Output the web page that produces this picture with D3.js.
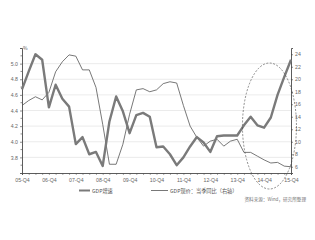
<!DOCTYPE html>
<html><head><meta charset="utf-8">
<script src="https://cdn.jsdelivr.net/npm/d3@7"></script>
<style>
html,body{margin:0;padding:0;background:#fff;}
svg{display:block;font-family:"Noto Sans CJK SC","DejaVu Sans",sans-serif;}
</style></head>
<body><svg id="c" width="315" height="240"></svg>
<script>
const quarters = ["05-Q4","06-Q1","06-Q2","06-Q3","06-Q4","07-Q1","07-Q2","07-Q3","07-Q4","08-Q1","08-Q2","08-Q3","08-Q4","09-Q1","09-Q2","09-Q3","09-Q4","10-Q1","10-Q2","10-Q3","10-Q4","11-Q1","11-Q2","11-Q3","11-Q4","12-Q1","12-Q2","12-Q3","12-Q4","13-Q1","13-Q2","13-Q3","13-Q4","14-Q1","14-Q2","14-Q3","14-Q4","15-Q1","15-Q2","15-Q3","15-Q4"];
const leftSeries = [4.67,4.90,5.12,5.05,4.44,4.73,4.55,4.45,3.97,4.06,3.84,3.87,3.69,4.26,4.58,4.39,4.11,4.34,4.37,4.32,3.93,3.94,3.84,3.70,3.80,3.94,4.06,3.99,3.87,4.07,4.08,4.08,4.08,4.21,4.32,4.21,4.18,4.31,4.60,4.83,5.05];
const rightSeries = [15.8,16.6,17.2,16.7,17.9,21.2,22.8,23.9,23.7,21.5,21.5,18.7,12.8,6.4,6.4,9.6,14.4,18.3,18.5,18.0,18.3,19.3,19.6,19.4,15.8,12.5,10.7,9.3,10.1,10.4,9.3,10.1,10.4,8.3,8.3,7.7,7.1,6.6,6.7,6.1,6.0];
const xTickLabels = ["05-Q4","06-Q4","07-Q4","08-Q4","09-Q4","10-Q4","11-Q4","12-Q4","13-Q4","14-Q4","15-Q4"];
const leftTicks = [3.8,4.0,4.2,4.4,4.6,4.8,5.0];
const rightTicks = [6,8,10,12,14,16,18,20,22,24];
const seriesNames = ["GDP增速","GDP现价：当季同比（右轴）"];
const sourceText = "资料来源：Wind，研究所整理";

const svg = d3.select("#c");
const L = 22, R = 291, T = 48, B = 173;
const x = d3.scalePoint().domain(quarters).range([L, R]);
const yL = d3.scaleLinear().domain([3.6, 5.2]).range([B, T]);
const yR = d3.scaleLinear().domain([5, 25]).range([B, T]);

// gridlines
svg.append("g").selectAll("line").data(leftTicks).join("line")
  .attr("x1", L).attr("x2", R).attr("y1", d => yL(d)).attr("y2", d => yL(d))
  .attr("stroke", "#e6e6e6").attr("stroke-width", 0.8);

// left axis
const gl = svg.append("g").attr("transform", `translate(${L},0)`)
  .call(d3.axisLeft(yL).tickValues(leftTicks).tickFormat(d3.format(".1f")).tickSize(2).tickPadding(2));
gl.append("g").selectAll("line").data(d3.range(3.7, 5.2, 0.2)).join("line")
  .attr("x1", -1.5).attr("x2", 0).attr("y1", d => yL(d)).attr("y2", d => yL(d)).attr("stroke", "#444").attr("stroke-width", 0.6);
gl.select(".domain").attr("stroke", "#333").attr("stroke-width", 0.8);
gl.selectAll(".tick line").attr("stroke", "#444").attr("stroke-width", 0.6);
gl.selectAll("text").attr("font-size", 5.2).attr("fill", "#666");
svg.append("text").attr("x", L + 1).attr("y", T + 2).attr("font-size", 5).attr("fill", "#555").text("%");

// right axis
const gr = svg.append("g").attr("transform", `translate(${R},0)`)
  .call(d3.axisRight(yR).tickValues(rightTicks).tickSize(2).tickPadding(2));
gr.select(".domain").attr("stroke", "#333").attr("stroke-width", 0.8);
gr.selectAll(".tick line").attr("stroke", "#444").attr("stroke-width", 0.6);
gr.selectAll("text").attr("font-size", 5.2).attr("fill", "#666");

// x axis
const gx = svg.append("g").attr("transform", `translate(0,${B})`)
  .call(d3.axisBottom(x).tickValues(quarters).tickSize(2).tickPadding(3).tickFormat(d => xTickLabels.includes(d) ? d : ""));
gx.select(".domain").attr("stroke", "#333").attr("stroke-width", 0.8);
gx.selectAll(".tick line").attr("stroke", "#555").attr("stroke-width", 0.5);
gx.selectAll("text").attr("font-size", 5.2).attr("fill", "#666");

// lines
svg.append("path").datum(rightSeries)
  .attr("d", d3.line().x((d, i) => x(quarters[i])).y(d => yR(d)))
  .attr("fill", "none").attr("stroke", "#555").attr("stroke-width", 0.8);
svg.append("path").datum(leftSeries)
  .attr("d", d3.line().x((d, i) => x(quarters[i])).y(d => yL(d)))
  .attr("fill", "none").attr("stroke", "#7a7a7a").attr("stroke-width", 2.4).attr("stroke-linejoin", "round");

// highlight ellipse
svg.append("ellipse").attr("cx", (x("14-Q1") + x("15-Q4")) / 2 + 2).attr("cy", 126)
  .attr("rx", 27).attr("ry", 63)
  .attr("fill", "none").attr("stroke", "#444").attr("stroke-width", 0.6).attr("stroke-dasharray", "2,1.5");

// legend
const lg = svg.append("g");
lg.append("line").attr("x1", 79).attr("x2", 90).attr("y1", 190.5).attr("y2", 190.5).attr("stroke", "#7a7a7a").attr("stroke-width", 2);
lg.append("text").attr("x", 92).attr("y", 192.5).attr("font-size", 5.2).attr("fill", "#555").text(seriesNames[0]);
lg.append("line").attr("x1", 151).attr("x2", 168).attr("y1", 190.5).attr("y2", 190.5).attr("stroke", "#555").attr("stroke-width", 0.8);
lg.append("text").attr("x", 170).attr("y", 192.5).attr("font-size", 5.2).attr("fill", "#555").text(seriesNames[1]);

// source
svg.append("text").attr("x", 306).attr("y", 201).attr("text-anchor", "end").attr("font-size", 4.6).attr("fill", "#777").text(sourceText);
</script></body></html>
